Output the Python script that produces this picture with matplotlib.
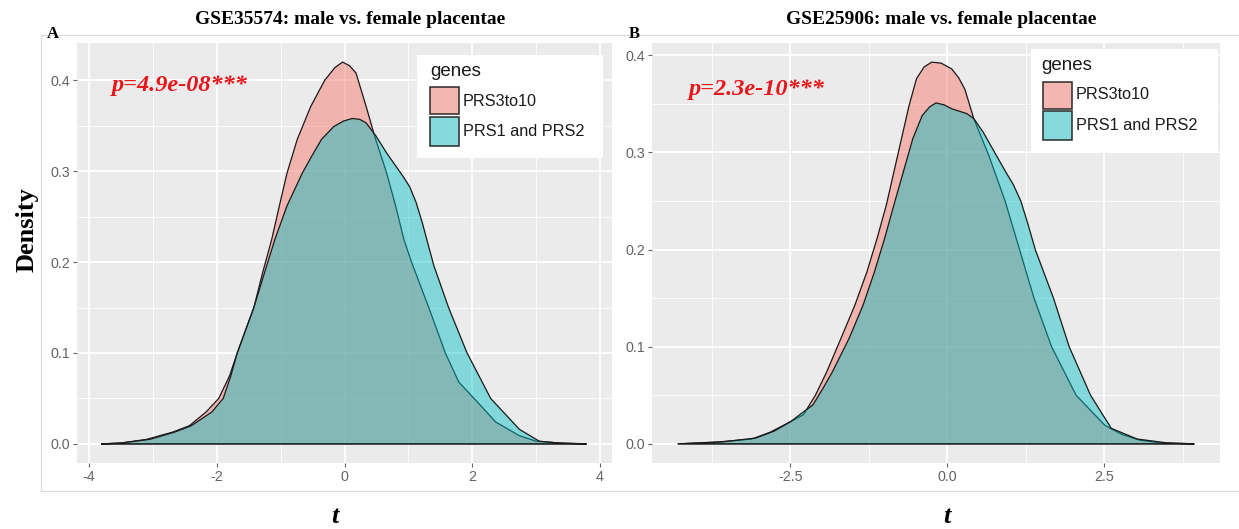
import matplotlib
matplotlib.use("Agg")
import matplotlib.pyplot as plt
from matplotlib.patches import Rectangle
from matplotlib.lines import Line2D
from matplotlib.ticker import FixedLocator

plt.rcParams['axes.unicode_minus'] = False

W, H = 1239, 529

# ---------------- data ----------------
gene_groups = ["PRS3to10", "PRS1 and PRS2"]
titles = ["GSE35574: male vs. female placentae", "GSE25906: male vs. female placentae"]
panel_letters = ["A", "B"]
p_labels = ["p=4.9e-08***", "p=2.3e-10***"]

# Panel A (GSE35574)
a_prs3to10_t = [-3.81, -3.50, -3.10, -2.69, -2.43, -2.17, -1.97, -1.80, -1.68, -1.42, -1.28,
                -1.14, -1.02, -0.90, -0.74, -0.53, -0.31, -0.15, -0.03, 0.08, 0.18, 0.34, 0.47,
                0.66, 0.80, 0.93, 1.05, 1.32, 1.58, 1.79, 2.03, 2.37, 2.74, 3.00, 3.37, 3.79]
a_prs3to10_d = [0.000, 0.001, 0.005, 0.013, 0.020, 0.035, 0.050, 0.075, 0.100, 0.150, 0.189,
                0.225, 0.262, 0.298, 0.335, 0.371, 0.400, 0.414, 0.420, 0.416, 0.408, 0.371, 0.339,
                0.298, 0.262, 0.225, 0.200, 0.150, 0.100, 0.068, 0.050, 0.024, 0.009, 0.003, 0.001, 0.000]
a_prs12_t = [-3.81, -3.50, -3.05, -2.66, -2.40, -2.08, -1.90, -1.78, -1.68, -1.42, -1.25,
             -1.09, -0.90, -0.66, -0.51, -0.36, -0.17, -0.02, 0.12, 0.24, 0.34, 0.49, 0.66,
             0.80, 0.92, 1.02, 1.12, 1.22, 1.30, 1.40, 1.63, 1.92, 2.29, 2.74, 3.05, 3.35, 3.79]
a_prs12_d = [0.000, 0.001, 0.005, 0.013, 0.020, 0.035, 0.050, 0.075, 0.100, 0.150, 0.189,
             0.225, 0.262, 0.298, 0.317, 0.335, 0.349, 0.355, 0.358, 0.357, 0.353, 0.339, 0.320,
             0.306, 0.294, 0.283, 0.266, 0.243, 0.222, 0.196, 0.150, 0.100, 0.050, 0.016, 0.003,
             0.001, 0.000]

# Panel B (GSE25906)
b_prs3to10_t = [-4.29, -3.64, -3.11, -2.82, -2.58, -2.29, -2.10, -1.92, -1.69, -1.47, -1.28,
                -1.12, -0.97, -0.85, -0.73, -0.61, -0.49, -0.37, -0.25, -0.10, 0.07, 0.18, 0.28,
                0.42, 0.66, 0.92, 1.15, 1.38, 1.66, 2.05, 2.51, 2.77, 3.05, 3.40, 3.93]
b_prs3to10_d = [0.000, 0.002, 0.005, 0.012, 0.020, 0.030, 0.050, 0.074, 0.109, 0.143, 0.177,
                0.211, 0.246, 0.280, 0.314, 0.348, 0.376, 0.388, 0.393, 0.392, 0.386, 0.377, 0.365,
                0.335, 0.297, 0.250, 0.200, 0.150, 0.100, 0.050, 0.019, 0.010, 0.004, 0.001, 0.000]
b_prs12_t = [-4.29, -3.58, -3.05, -2.76, -2.49, -2.35, -2.14, -1.98, -1.83, -1.56, -1.34,
             -1.16, -1.00, -0.85, -0.70, -0.55, -0.40, -0.28, -0.18, -0.05, 0.07, 0.31, 0.42,
             0.57, 0.78, 0.93, 1.05, 1.17, 1.28, 1.40, 1.69, 1.94, 2.28, 2.61, 3.02, 3.50, 3.93]
b_prs12_d = [0.000, 0.002, 0.006, 0.013, 0.023, 0.030, 0.040, 0.057, 0.074, 0.109, 0.143,
             0.177, 0.211, 0.246, 0.280, 0.314, 0.338, 0.347, 0.351, 0.349, 0.345, 0.340, 0.335,
             0.321, 0.297, 0.280, 0.267, 0.250, 0.227, 0.200, 0.150, 0.100, 0.050, 0.016, 0.005,
             0.001, 0.000]

a_xticks = [-4, -2, 0, 2, 4]
a_xticklabels = ["-4", "-2", "0", "2", "4"]
b_xticks = [-2.5, 0.0, 2.5]
b_xticklabels = ["-2.5", "0.0", "2.5"]
yticks = [0.0, 0.1, 0.2, 0.3, 0.4]
yticklabels = ["0.0", "0.1", "0.2", "0.3", "0.4"]

# ---------------- style ----------------
PINK = "#F8766D"
TEAL = "#00BFC4"
PINK_KEY = "#F4B6B1"
TEAL_KEY = "#84DADC"
RED = "#E8161B"
TICK_GRAY = "#646464"
SERIF = ["Liberation Serif", "DejaVu Serif"]
SANS = ["Liberation Sans", "DejaVu Sans"]

fig = plt.figure(figsize=(W / 100, H / 100), dpi=100)
fig.patch.set_facecolor("white")


def fx(px):
    return px / W


def fy(py):
    return 1 - py / H


def ax_rect(x0, y0, x1, y1):
    return [fx(x0), fy(y1), fx(x1) - fx(x0), fy(y0) - fy(y1)]


# faint outer frame of the composed figure
frame_col = "#DADADA"
fig.add_artist(Line2D([fx(41), fx(1239)], [fy(35), fy(35)], color=frame_col, lw=0.8))
fig.add_artist(Line2D([fx(41), fx(41)], [fy(35), fy(491)], color=frame_col, lw=0.8))
fig.add_artist(Line2D([fx(41), fx(1239)], [fy(491), fy(491)], color=frame_col, lw=0.8))

panels = [
    dict(rect=ax_rect(77, 43, 612, 463), xlim=(-4.19, 4.19), ylim=(-0.021, 0.441),
         xt=a_xticks, xtl=a_xticklabels, xminor=[-3, -1, 1, 3],
         series=[(a_prs3to10_t, a_prs3to10_d), (a_prs12_t, a_prs12_d)]),
    dict(rect=ax_rect(652, 43, 1220, 463), xlim=(-4.70, 4.34), ylim=(-0.0197, 0.4127),
         xt=b_xticks, xtl=b_xticklabels, xminor=[-3.75, -1.25, 1.25, 3.75],
         series=[(b_prs3to10_t, b_prs3to10_d), (b_prs12_t, b_prs12_d)]),
]

for p in panels:
    ax = fig.add_axes(p["rect"])
    ax.set_facecolor("#EBEBEB")
    for s in ax.spines.values():
        s.set_visible(False)
    ax.set_xlim(*p["xlim"])
    ax.set_ylim(*p["ylim"])
    ax.xaxis.set_major_locator(FixedLocator(p["xt"]))
    ax.set_xticklabels(p["xtl"])
    ax.xaxis.set_minor_locator(FixedLocator(p["xminor"]))
    ax.yaxis.set_major_locator(FixedLocator(yticks))
    ax.set_yticklabels(yticklabels)
    ax.yaxis.set_minor_locator(FixedLocator([0.05, 0.15, 0.25, 0.35]))
    ax.grid(which="major", color="white", lw=1.3)
    ax.grid(which="minor", color="white", lw=0.6)
    ax.set_axisbelow(True)
    ax.tick_params(which="major", length=3, width=0.8, color=TICK_GRAY,
                   labelcolor=TICK_GRAY, labelsize=10.3, pad=2)
    ax.tick_params(which="minor", length=0)
    for lab in ax.get_xticklabels() + ax.get_yticklabels():
        lab.set_family(SANS)
    (t1, d1), (t2, d2) = p["series"]
    ax.fill(t1, d1, facecolor=PINK, alpha=0.48, edgecolor="none", zorder=2)
    ax.fill(t1, d1, facecolor="none", edgecolor="#1A1A1A", lw=0.9, zorder=3)
    ax.fill(t2, d2, facecolor=TEAL, alpha=0.45, edgecolor="none", zorder=4)
    ax.fill(t2, d2, facecolor="none", edgecolor="#1A1A1A", lw=0.9, zorder=5)

# titles, letters, p values
title_pos = [(350, 19), (941, 19)]
letter_pos = [(47, 34), (629, 34)]
p_pos = [(112, 86), (689, 89)]
for i in range(2):
    fig.text(fx(title_pos[i][0]), fy(title_pos[i][1]), titles[i], ha="center", va="center",
             family=SERIF, weight="bold", fontsize=14)
    fig.text(fx(letter_pos[i][0]), fy(letter_pos[i][1]), panel_letters[i], ha="left", va="center",
             family=SERIF, weight="bold", fontsize=12)
    fig.text(fx(p_pos[i][0]), fy(p_pos[i][1]), p_labels[i], ha="left", va="center",
             family=SERIF, weight="bold", style="italic", fontsize=17.5, color=RED)

# axis titles
fig.text(fx(27), fy(230), "Density", rotation=90, ha="center", va="center",
         family=SERIF, weight="bold", fontsize=19)
for xpos in (335, 947):
    fig.text(fx(xpos), fy(523), "t", ha="center", va="baseline",
             family=SERIF, weight="bold", style="italic", fontsize=19)

# legends (drawn as figure-level patches)
legends = [
    dict(box=(417, 55, 603, 158), title=(430, 72), keys=[(430, 87, 459, 114), (430, 117, 459, 146)],
         labx=463, laby=[101, 132]),
    dict(box=(1031, 49, 1218, 153), title=(1041, 66), keys=[(1043, 82, 1072, 109), (1043, 111, 1072, 140)],
         labx=1076, laby=[95, 126]),
]
key_cols = [PINK_KEY, TEAL_KEY]
for lg in legends:
    x0, y0, x1, y1 = lg["box"]
    fig.add_artist(Rectangle((fx(x0), fy(y1)), fx(x1) - fx(x0), fy(y0) - fy(y1),
                             facecolor="white", edgecolor="none", transform=fig.transFigure, zorder=10))
    fig.text(fx(lg["title"][0]), fy(lg["title"][1]), "genes", ha="left", va="center",
             family=SANS, fontsize=13.5, color="#1A1A1A", zorder=11)
    for k, (kx0, ky0, kx1, ky1) in enumerate(lg["keys"]):
        fig.add_artist(Rectangle((fx(kx0), fy(ky1)), fx(kx1) - fx(kx0), fy(ky0) - fy(ky1),
                                 facecolor=key_cols[k], edgecolor="#2A2A2A", lw=1.1,
                                 transform=fig.transFigure, zorder=11))
        fig.text(fx(lg["labx"]), fy(lg["laby"][k]), gene_groups[k], ha="left", va="center",
                 family=SANS, fontsize=11.7, color="#1A1A1A", zorder=11)

fig.savefig("out.png", dpi=100)
